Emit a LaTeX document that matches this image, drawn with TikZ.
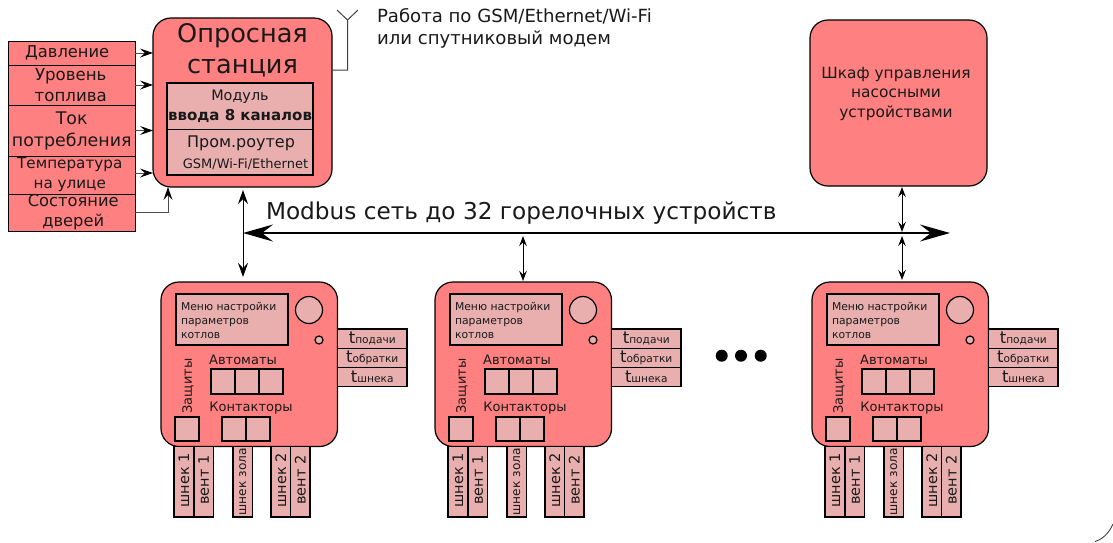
\documentclass[tikz,border=0pt]{standalone}
\usepackage{fontspec}
\setmainfont{DejaVu Sans}
\usetikzlibrary{arrows.meta}
\definecolor{boxred}{HTML}{FF8080}
\definecolor{boxpink}{HTML}{E9AFAF}
\newcommand{\fss}[2]{\fontsize{#1}{#2}\selectfont}
\newcommand{\bx}[7]{\node[#6,minimum width={(#4-#2)*1pt},minimum height={(#5-#3)*1pt}] (#1) at ({(#2+#4)/2},{(#3+#5)/2}) {#7};}
\newcommand{\tlab}[1]{{\fontsize{16.5}{16}\selectfont t}{\fontsize{10.6}{12}\selectfont #1}}
\tikzset{
  redbox/.style={draw=black,line width=1pt,fill=boxred,inner sep=0pt,outer sep=0pt,align=center,text=black!90},
  pinkbox/.style={draw=black,line width=1.2pt,fill=boxpink,inner sep=0pt,outer sep=0pt,align=center,text=black!90},
  bigpanel/.style={redbox,line width=1.2pt,rounded corners=18pt},
  lbl/.style={inner sep=0pt,outer sep=0pt,align=center,text=black!90},
  smallarrow/.style={line width=1pt,{Stealth[length=10pt,width=7.5pt,inset=3.5pt]}-{Stealth[length=10pt,width=7.5pt,inset=3.5pt]}},
  midarrow/.style={line width=1pt,{Stealth[length=14pt,width=10pt,inset=5pt]}-{Stealth[length=14pt,width=10pt,inset=5pt]}},
  inarrow/.style={line width=1pt,draw=black!70,-{Stealth[length=13pt,width=9pt,inset=5pt,black]}},
  busarrow/.style={line width=1.4pt,{Stealth[length=30pt,width=17pt,inset=11pt]}-{Stealth[length=30pt,width=17pt,inset=11pt]}},
}
\begin{document}
\begin{tikzpicture}[x=1pt,y=-1pt]
\useasboundingbox (0,0) rectangle (1113,542);
% left sensors
\bx{b1}{8.5}{41}{135}{65}{redbox,font=\fss{16.3}{20}}{\hspace*{-9pt}Давление}
\bx{b2}{8.5}{65}{135}{105}{redbox,font=\fss{16.6}{21}}{\hspace*{-2pt}Уровень\\\hspace*{-2pt}топлива}
\bx{b3}{8.5}{105}{135}{156}{redbox,font=\fss{17.4}{22}}{Ток\\потребления}
\bx{b4}{8.5}{156}{135}{194}{redbox,font=\fss{15.2}{20}}{\hspace*{-4pt}Температура\\\hspace*{-4pt}на улице}
\bx{b5}{8.5}{194}{135}{231}{redbox,font=\fss{16.3}{20}}{\hspace*{3pt}Состояние\\\hspace*{3pt}дверей}
% station
\bx{st}{153}{18}{332}{187}{bigpanel}{}
\node[lbl,font=\fss{25.6}{31}] (sttitle) at (242.5,50) {Опросная\\станция};
\bx{mod}{167}{83}{313}{129.5}{pinkbox,line width=1.5pt}{}
\node[lbl,font=\fss{14.4}{20}] (modt) at (240,106.5) {Модуль\\{\fontsize{15}{20}\selectfont\bfseries ввода 8 каналов}};
\bx{rout}{167}{129.5}{313}{175}{pinkbox,line width=1.5pt}{}
\node[lbl,font=\fss{16}{20}] (routa) at (241,143) {Пром.роутер};
\node[lbl,font=\fss{13}{16}] (routb) at (245.5,164) {GSM/Wi-Fi/Ethernet};
% antenna
\coordinate (antb) at (347.5,70);
\coordinate (antt) at (347.5,20);
\coordinate (antl) at (337,10);
\coordinate (antr) at (358,10);
\draw[line width=1pt,black!75] (st.east |- antb) -- (antb) -- (antt) (antl) -- (antt) -- (antr);
\node[lbl,anchor=west,align=left,font=\fss{18.1}{22}] (radio) at (377,28) {Работа по GSM/Ethernet/Wi-Fi\\или спутниковый модем};
% sensor arrows
\draw[inarrow] (b1.east) -- (b1.east -| st.west);
\draw[inarrow] (b2.east) -- (b2.east -| st.west);
\draw[inarrow] (b3.east) -- (b3.east -| st.west);
\coordinate (b4o) at (135,173);
\draw[inarrow] (b4o) -- (b4o -| st.west);
\coordinate (stin) at (168,187);
\draw[inarrow] (b5.east) -| (stin);
% cabinet
\bx{cab}{810}{20}{987}{186}{bigpanel}{}
\node[lbl,font=\fss{15.4}{19.5}] (cabt) at (896,93.5) {Шкаф управления\\насосными\\устройствами};
% bus
\node[lbl,anchor=west,font=\fss{23.2}{27}] (bustext) at (266,213) {Modbus сеть до 32 горелочных устройств};
\coordinate (busl) at (243,233);
\coordinate (busr) at (950,233);
\draw[busarrow] (busl) -- (busr);
% panels
\foreach \n/\px in {p1/161,p2/435,p3/812}{
 \begin{scope}[shift={(\px,282)}]
  \bx{\n}{0}{0}{176.5}{164.5}{bigpanel}{}
  \bx{\n menu}{15}{12}{127}{63}{pinkbox}{}
  \node[lbl,anchor=west,align=left,font=\fss{10.8}{14}] (\n menut) at (20,38) {Меню настройки\\параметров\\котлов};
  \node[pinkbox,circle,minimum size=27pt] (\n knob) at (148,28) {};
  \node[pinkbox,circle,minimum size=8pt] (\n led) at (158,58) {};
  \bx{\n ta}{176.5}{47}{246}{66.5}{pinkbox}{\tlab{подачи}}
  \bx{\n tb}{176.5}{66.5}{246}{85.5}{pinkbox}{\tlab{обратки}}
  \bx{\n tc}{176.5}{85.5}{246}{104.5}{pinkbox}{\tlab{шнека}}
  \node[lbl,font=\fss{13}{16}] (\n aut) at (82,78) {Автоматы};
  \bx{\n aa}{50}{87}{74}{112}{pinkbox}{}
  \bx{\n ab}{74}{87}{98}{112}{pinkbox}{}
  \bx{\n ac}{98}{87}{122}{112}{pinkbox}{}
  \node[lbl,rotate=90,font=\fss{13}{16}] (\n zash) at (27,104) {Защиты};
  \node[lbl,font=\fss{13}{16}] (\n kon) at (90,126) {Контакторы};
  \bx{\n za}{14}{135}{38}{159}{pinkbox}{}
  \bx{\n ka}{61}{135}{85}{159}{pinkbox}{}
  \bx{\n kb}{85}{135}{109}{159}{pinkbox}{}
  \bx{\n sa}{13}{164.5}{33}{235}{pinkbox}{}
  \bx{\n va}{33}{164.5}{52.5}{235}{pinkbox}{}
  \bx{\n sz}{72}{164.5}{91.5}{235}{pinkbox}{}
  \bx{\n sb}{110}{164.5}{129.5}{235}{pinkbox}{}
  \bx{\n vb}{129.5}{164.5}{149}{235}{pinkbox}{}
  \node[lbl,rotate=90,font=\fss{14.5}{16}] (\n sat) at ([yshift=1.5pt]\n sa) {шнек 1};
  \node[lbl,rotate=90,font=\fss{14.5}{16}] (\n vat) at ([yshift=1.5pt]\n va) {вент 1};
  \node[lbl,rotate=90,font=\fss{12.2}{16}] (\n szt) at (\n sz) {шнек зола};
  \node[lbl,rotate=90,font=\fss{14.5}{16}] (\n sbt) at ([yshift=1.5pt]\n sb) {шнек 2};
  \node[lbl,rotate=90,font=\fss{14.5}{16}] (\n vbt) at ([yshift=1.5pt]\n vb) {вент 2};
 \end{scope}
}
% vertical connectors
\coordinate (v1t) at (243,190);
\coordinate (v1b) at (243,277);
\draw[midarrow] (v1t) -- (v1b);
\coordinate (v2t) at (523,236);
\coordinate (v2b) at (523,281);
\draw[smallarrow] (v2t) -- (v2b);
\coordinate (v3t) at (902,187);
\coordinate (v3m) at (902,232);
\draw[smallarrow] (v3t) -- (v3m);
\coordinate (v4m) at (902,236);
\coordinate (v4b) at (902,280);
\draw[smallarrow] (v4m) -- (v4b);
% dots
\foreach \dx in {721.7,741,760.7}{\fill[black] (\dx,355.7) circle (6pt);}
% corner arc
\draw[line width=0.8pt,black!80] (1095,541.5) .. controls (1103,539) and (1109,533) .. (1113,524);
\end{tikzpicture}
\end{document}
